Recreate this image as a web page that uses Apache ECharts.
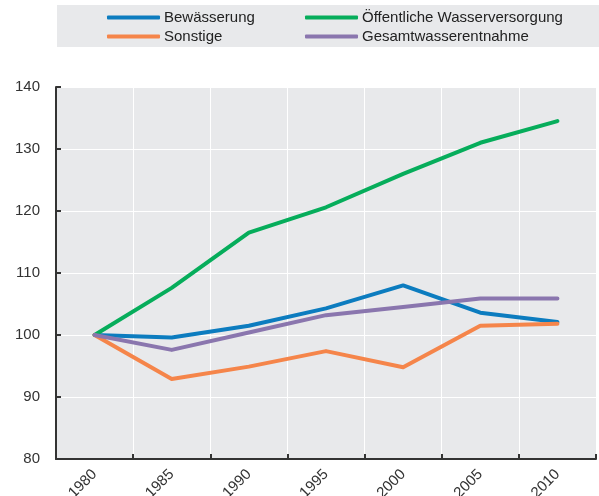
<!DOCTYPE html>
<html>
<head>
<meta charset="utf-8">
<script src="https://cdn.jsdelivr.net/npm/echarts@6/dist/echarts.min.js"></script>
<style>
  html, body { margin: 0; padding: 0; background: #fff; }
  #chart { width: 599px; height: 496px; }
</style>
</head>
<body>
<div id="chart"></div>
<script>
// Index 1980 = 100
const years = ['1980', '1985', '1990', '1995', '2000', '2005', '2010']
const bewaesserung = [100, 99.6, 101.5, 104.3, 108.0, 103.6, 102.1]
const oeffentlich = [100, 107.6, 116.5, 120.6, 126.0, 131.0, 134.5]
const sonstige = [100, 92.9, 94.9, 97.4, 94.8, 101.5, 101.8]
const gesamt = [100, 97.6, 100.4, 103.2, 104.5, 105.9, 105.9]
const yTicks = [80, 90, 100, 110, 120, 130, 140]

const font = '"Liberation Sans", Arial, sans-serif'
const axisDark = '#333333'

const myChart = echarts.init(document.getElementById('chart'))

function legendItem(name, left, top) {
  return {
    data: [name],
    left: left,
    top: top,
    padding: 0,
    icon: 'roundRect',
    itemWidth: 53,
    itemHeight: 4,
    itemGap: 0,
    textStyle: { fontFamily: font, fontSize: 15, color: '#222', padding: [0, 0, 0, -1] }
  }
}

function lineSeries(name, color, data) {
  return {
    name: name,
    type: 'line',
    data: data,
    symbol: 'none',
    lineStyle: { color: color, width: 4, cap: 'round', join: 'round' },
    itemStyle: { color: color }
  }
}

myChart.setOption({
  animation: false,
  graphic: [
    {
      type: 'rect',
      shape: { x: 57, y: 5, width: 542, height: 42 },
      style: { fill: '#e8e9eb' },
      z: -1
    }
  ],
  legend: [
    legendItem('Bewässerung', 107, 10),
    legendItem('Öffentliche Wasserversorgung', 305, 10),
    legendItem('Sonstige', 107, 29),
    legendItem('Gesamtwasserentnahme', 305, 29)
  ],
  grid: {
    left: 56,
    right: 3,
    top: 87,
    bottom: 37,
    outerBoundsMode: 'none',
    containLabel: false,
    show: true,
    backgroundColor: '#e8e9eb',
    borderWidth: 0
  },
  xAxis: {
    type: 'category',
    data: years,
    boundaryGap: true,
    axisLine: { lineStyle: { color: axisDark, width: 2 } },
    axisTick: { show: true, inside: true, length: 5, lineStyle: { color: axisDark, width: 2 } },
    axisLabel: {
      rotate: 45,
      fontFamily: font,
      fontSize: 15,
      color: '#333',
      margin: 13
    },
    splitLine: { show: true, lineStyle: { color: '#ffffff', width: 1 } }
  },
  yAxis: {
    type: 'value',
    min: yTicks[0],
    max: yTicks[yTicks.length - 1],
    interval: 10,
    axisLine: { show: true, lineStyle: { color: axisDark, width: 2 } },
    axisTick: { show: true, inside: true, length: 5, lineStyle: { color: axisDark, width: 2 } },
    axisLabel: {
      fontFamily: font,
      fontSize: 15,
      color: '#333',
      margin: 16
    },
    splitLine: { show: true, lineStyle: { color: '#ffffff', width: 1 } }
  },
  series: [
    lineSeries('Bewässerung', '#0c7cbf', bewaesserung),
    lineSeries('Öffentliche Wasserversorgung', '#06ad5b', oeffentlich),
    lineSeries('Sonstige', '#f5854a', sonstige),
    lineSeries('Gesamtwasserentnahme', '#8a76ae', gesamt)
  ]
})
</script>
</body>
</html>
